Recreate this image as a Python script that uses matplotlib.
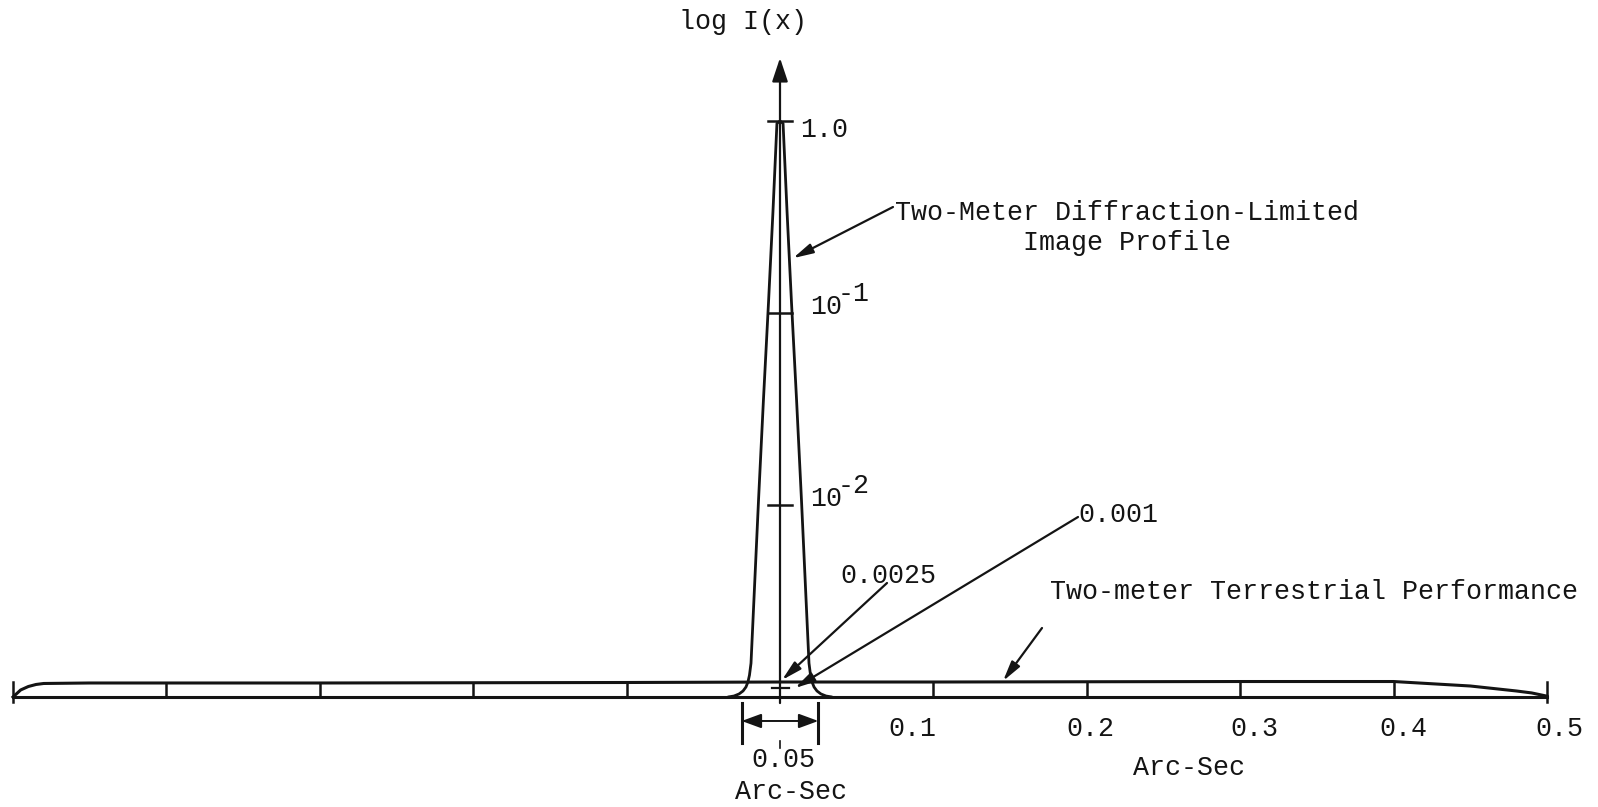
import numpy as np
import matplotlib.pyplot as plt

W, H = 1598, 807

# ---- data ----
# two-meter diffraction-limited profile, right half (mirrored for the left)
dl_x = [0.0, 0.002, 0.0046, 0.0075, 0.0108, 0.0140, 0.0170, 0.0189,
        0.0199, 0.0209, 0.0222, 0.0241, 0.0267, 0.0300, 0.0339]
dl_I = [1.0, 0.97, 0.336, 0.113, 0.0352, 0.0106, 0.0032, 1.50e-3,
        1.30e-3, 1.197e-3, 1.127e-3, 1.075e-3, 1.037e-3, 1.012e-3, 1.0e-3]

# two-meter terrestrial performance
terr_x = [-0.5, -0.495, -0.49, -0.485, -0.48, -0.45, -0.3, -0.1, 0.0,
          0.1, 0.3, 0.40, 0.45, 0.48, 0.49, 0.5]
terr_I = [1.0e-3, 1.088e-3, 1.134e-3, 1.162e-3, 1.176e-3, 1.183e-3,
          1.183e-3, 1.190e-3, 1.197e-3, 1.197e-3, 1.204e-3, 1.204e-3,
          1.141e-3, 1.075e-3, 1.05e-3, 1.01e-3]

base_I = 1.0e-3
x_ticks = [-0.5, -0.4, -0.3, -0.2, -0.1, 0.1, 0.2, 0.3, 0.4, 0.5]
x_label_vals = [0.1, 0.2, 0.3, 0.4, 0.5]
x_labels = ["0.1", "0.2", "0.3", "0.4", "0.5"]
y_ticks = [1.0, 1e-1, 1e-2]
y_labels = [("1.0", ""), ("10", "-1"), ("10", "-2")]
width_marker = 0.05

# ---- layout (pixel mapping of the original drawing) ----
X0, SX = 780, 1534          # x = 0 at 780 px, 1534 px per arc-sec
Y1, SD = 121, 192           # I = 1 at 121 px, 192 px per decade
label_nudge = [-21, 4, 14, 10, 12]

def fp(px, py):
    return (px, H - py)

plt.rcParams['font.family'] = ['Liberation Mono', 'DejaVu Sans Mono']
fig = plt.figure(figsize=(W / 100, H / 100), dpi=100)
ax = fig.add_axes([0, 0, 1, 1])
ax.set_yscale('log')
ax.set_xlim(-X0 / SX, (W - X0) / SX)
ax.set_ylim(10 ** (-(H - Y1) / SD), 10 ** (Y1 / SD))
ax.axis('off')

ink = '#141414'
fs = 19.2

# curves
xs = np.concatenate([-np.array(dl_x[::-1]), np.array(dl_x[1:])])
Is = np.concatenate([np.array(dl_I[::-1]), np.array(dl_I[1:])])
ax.plot(xs, Is, color=ink, lw=2.0, solid_capstyle='round')
ax.plot(terr_x, terr_I, color=ink, lw=2.2)
ax.plot([-0.5, 0.5], [base_I, base_I], color=ink, lw=2.2)

# x ticks between baseline and terrestrial curve
for v in x_ticks:
    top = np.interp(v, terr_x, terr_I)
    if abs(v) == 0.5:
        ax.plot([v, v], [0.94e-3, 1.2e-3], color=ink, lw=1.8)
    else:
        ax.plot([v, v], [base_I, top], color=ink, lw=1.8)

for v, s, dx in zip(x_label_vals, x_labels, label_nudge):
    ax.annotate(s, xy=(v, base_I), xytext=(dx, -32), textcoords='offset pixels',
                ha='center', va='center', fontsize=fs, color=ink)

# vertical axis with arrow
ax.annotate('', xy=(0, 2.13), xytext=(0, 9.3e-4),
            arrowprops=dict(arrowstyle='-|>,head_length=0.36,head_width=0.12',
                            mutation_scale=40, lw=1.6, color=ink,
                            shrinkA=0, shrinkB=0))
for v, (b, e) in zip(y_ticks, y_labels):
    ax.plot([-0.0078, 0.0078], [v, v], color=ink, lw=1.8)
    if e:
        ax.annotate(b, xy=(0, v), xytext=(30, 6), textcoords='offset pixels',
                    ha='left', va='center', fontsize=fs, color=ink)
        ax.annotate(e, xy=(0, v), xytext=(58, 19), textcoords='offset pixels',
                    ha='left', va='center', fontsize=fs, color=ink)
    else:
        ax.annotate(b, xy=(0, v), xytext=(20, -9), textcoords='offset pixels',
                    ha='left', va='center', fontsize=fs, color=ink)
ax.plot([-0.005, 0.006], [1.114e-3, 1.114e-3], color=ink, lw=1.6)

# 0.05 arc-sec width marker
hw = width_marker / 2
for v in (-hw, hw):
    ax.plot([v, v], [5.76e-4, 9.31e-4], color=ink, lw=2.2)
ax.annotate('', xy=(-hw, 7.5e-4), xytext=(hw, 7.5e-4),
            arrowprops=dict(arrowstyle='<|-|>,head_length=0.6,head_width=0.22',
                            mutation_scale=20, lw=1.4, color=ink,
                            shrinkA=0, shrinkB=0))
ax.plot([0, 0], [5.43e-4, 5.9e-4], color=ink, lw=1.2)

# labelled pointers
arrow_kw = dict(arrowstyle='-|>,head_length=0.6,head_width=0.15',
                mutation_scale=20, lw=1.6, color=ink, shrinkA=0, shrinkB=0)
pointers = [((0.0085, 0.193), (893, 207)),
            ((0.0013, 1.226e-3), (887, 583)),
            ((0.0098, 1.114e-3), (1078, 517)),
            ((0.1454, 1.211e-3), (1042, 628))]
for tip, tail in pointers:
    ax.annotate('', xy=tip, xycoords='data', xytext=fp(*tail),
                textcoords='figure pixels', arrowprops=arrow_kw)

texts = [("log I(x)", 743, 22),
         ("Two-Meter Diffraction-Limited\nImage Profile", 1127, 228),
         ("0.0025", 888, 576),
         ("0.001", 1118, 515),
         ("Two-meter Terrestrial Performance", 1314, 592),
         ("Arc-Sec", 1189, 768),
         ("0.05", 783, 760),
         ("Arc-Sec", 791, 792)]
for s, px, py in texts:
    ax.annotate(s, xy=fp(px, py), xycoords='figure pixels', ha='center',
                va='center', fontsize=fs, color=ink, linespacing=1.2)

fig.savefig('out.png', dpi=100, facecolor='white')
